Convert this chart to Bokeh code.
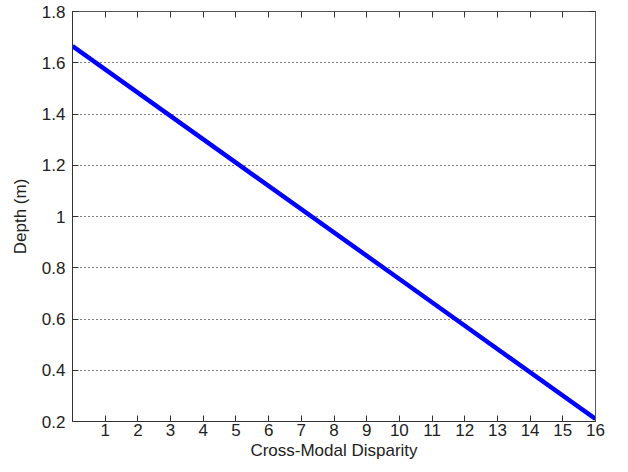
from bokeh.plotting import figure
from bokeh.models import Range1d, FixedTicker, LinearAxis, CustomJSTickFormatter
from bokeh.embed import file_html
from bokeh.resources import INLINE

# Data
disparity = [0, 5, 10, 16]
depth = [1.665, 1.210, 0.756, 0.210]

x_ticks = list(range(1, 17))
y_ticks = [0.2, 0.4, 0.6, 0.8, 1.0, 1.2, 1.4, 1.6, 1.8]

FONT = "Liberation Sans"
AX = "#333333"

p = figure(width=620, height=464, output_backend="svg", toolbar_location=None,
           x_range=Range1d(0, 16), y_range=Range1d(0.2, 1.8),
           min_border_left=72, min_border_right=25, min_border_top=11, min_border_bottom=43)
p.background_fill_color = "white"
p.border_fill_color = "white"
p.outline_line_color = "#555555"
p.outline_line_width = 1

p.line(disparity, depth, line_color="#0000FF", line_width=4.5)

fmt = CustomJSTickFormatter(code="return (Math.round(tick*10)/10).toString();")
blank = CustomJSTickFormatter(code="return '';")

for ax in p.xaxis:
    ax.ticker = FixedTicker(ticks=x_ticks)
    ax.axis_label = "Cross-Modal Disparity"
for ax in p.yaxis:
    ax.ticker = FixedTicker(ticks=y_ticks)
    ax.formatter = fmt
    ax.axis_label = "Depth (m)"

for ax in p.xaxis + p.yaxis:
    ax.major_tick_in = 6
    ax.major_tick_out = 0
    ax.minor_tick_in = 0
    ax.minor_tick_out = 0
    ax.axis_line_color = AX
    ax.major_tick_line_color = AX
    ax.major_label_text_font = FONT
    ax.major_label_text_font_size = "17px"
    ax.major_label_text_color = "#222222"
    ax.axis_label_text_font = FONT
    ax.axis_label_text_font_size = "17px"
    ax.axis_label_text_font_style = "normal"
    ax.axis_label_text_color = "#222222"

p.xaxis.major_label_standoff = 2
p.xaxis.axis_label_standoff = 2
p.yaxis.major_label_standoff = 7
p.yaxis.axis_label_standoff = 9

top = LinearAxis(ticker=FixedTicker(ticks=x_ticks), formatter=blank,
                 major_tick_in=6, major_tick_out=0, minor_tick_in=0, minor_tick_out=0,
                 axis_line_color="#555555", major_tick_line_color=AX,
                 major_label_text_font_size="0px", major_label_standoff=0)
right = LinearAxis(ticker=FixedTicker(ticks=y_ticks), formatter=blank,
                   major_tick_in=6, major_tick_out=0, minor_tick_in=0, minor_tick_out=0,
                   axis_line_color="#555555", major_tick_line_color=AX,
                   major_label_text_font_size="0px", major_label_standoff=0)
p.add_layout(top, "above")
p.add_layout(right, "right")

p.xgrid.visible = False
p.ygrid.ticker = FixedTicker(ticks=y_ticks)
p.ygrid.grid_line_color = "#000000"
p.ygrid.grid_line_dash = "1 3"
p.ygrid.grid_line_width = 1

open("out.html", "w").write(file_html(p, INLINE))
